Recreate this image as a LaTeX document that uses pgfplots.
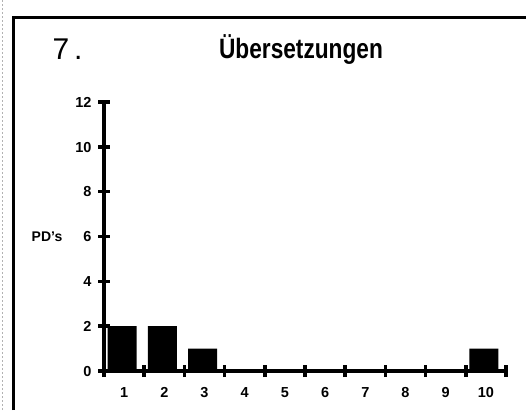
\documentclass[border=0pt]{standalone}
\usepackage{fontspec}
\setmainfont{Liberation Sans}
\usepackage{graphicx}
\usepackage{pgfplots}
\pgfplotsset{compat=1.18}
\begin{document}
\begin{tikzpicture}[x=1pt,y=1pt]
\useasboundingbox (0,0) rectangle (526,410);
% frame
\draw[line width=3pt] (13,0) -- (13,392) -- (526,392);
\draw[line width=0.6pt, gray!60, dash pattern=on 2pt off 2pt] (2,0) -- (2,410);
\begin{axis}[
  at={(104pt,39pt)}, anchor=origin,
  scale only axis, width=402pt, height=269pt,
  xmin=0.5, xmax=10.5, ymin=0, ymax=12,
  axis x line=bottom, axis y line=left,
  axis line style={line width=4pt, -},
  xtick={1,...,10}, minor xtick={0.5,1.5,...,10.5},
  ytick={0,2,...,12},
  tick align=center,
  major tick length=12pt, minor tick length=12pt,
  tick style={line width=3.5pt, black},
  major x tick style={draw=none},
  /pgf/number format/assume math mode=true,
  ticklabel style={font=\bfseries\fontsize{14.5}{14.5}\selectfont, text height=10.5pt, text depth=0pt},
  xticklabel style={yshift=-6pt},
  yticklabel style={xshift=-3pt},
  clip=false,
]
\addplot[ybar, bar width=29pt, fill=black, draw=none, bar shift=-2pt] coordinates {
(1,2) (2,2) (3,1) (4,0) (5,0) (6,0) (7,0) (8,0) (9,0) (10,1)
};
\end{axis}
\node[anchor=west, font=\fontsize{30}{30}\selectfont] at (49,361) {7\hspace{5pt}.};
\node[font=\bfseries\fontsize{28}{28}\selectfont] at (301,360) {\scalebox{0.81}[1]{Übersetzungen}};
\node[font=\bfseries\fontsize{14}{14}\selectfont] at (47,173) {PD's};
\end{tikzpicture}
\end{document}
